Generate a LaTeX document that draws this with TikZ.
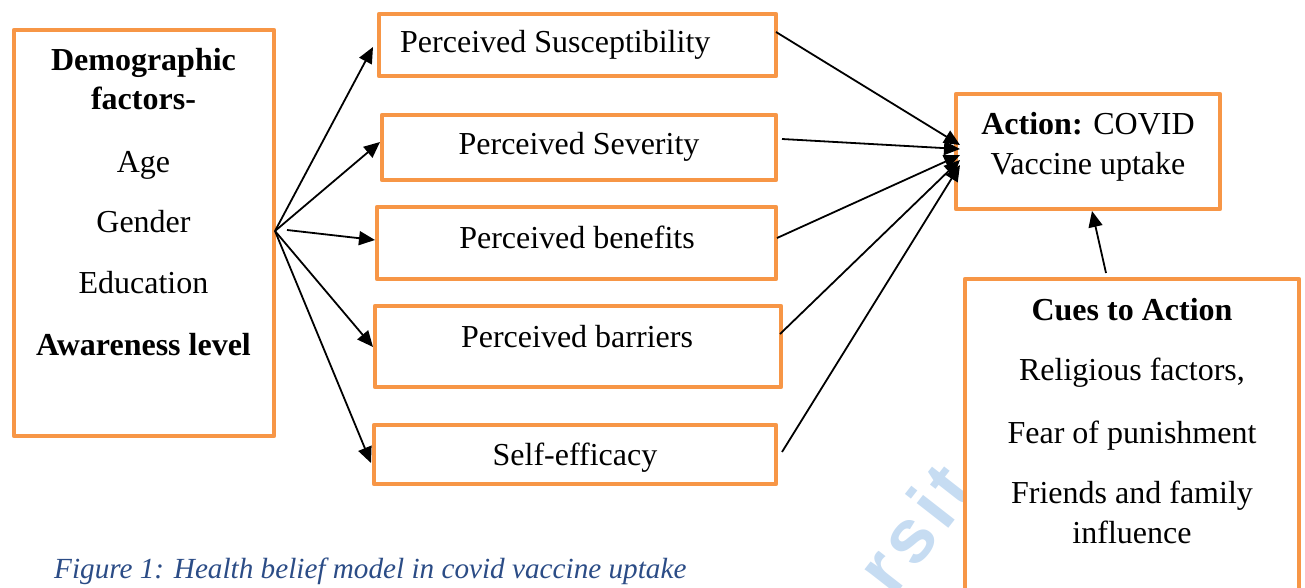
\documentclass[tikz,border=0pt]{standalone}
\usepackage{fontspec}
\setmainfont{Liberation Serif}
\newfontfamily\markfont[LetterSpace=8]{Liberation Sans}
\usetikzlibrary{arrows.meta,calc}
\definecolor{boxorange}{HTML}{F79646}
\definecolor{captionblue}{HTML}{2B4C86}
\definecolor{markblue}{RGB}{198,220,242}

\begin{document}
\begin{tikzpicture}[x=1pt,y=-1pt,
  frame/.style={draw=boxorange, line width=4.5pt, line join=round, fill=white,
    rectangle, inner sep=0pt, outer sep=0pt},
  txt/.style={font=\fontsize{32}{38}\selectfont, inner sep=0pt, anchor=base},
  link/.style={line width=1.8pt, -{Triangle[length=16pt,width=14pt]}},
]
\useasboundingbox (0,0) rectangle (1305,588);

% faint background mark
\node[font=\markfont\bfseries\fontsize{76}{76}\selectfont, text=markblue,
      rotate=52, inner sep=0pt] (mark) at (914,528) {rsit};

% boxes
\node[frame, minimum width=260pt, minimum height=406pt] (dem) at (144,233) {};
\node[frame, minimum width=397pt, minimum height=62pt]  (sus) at (577.5,45) {};
\node[frame, minimum width=394pt, minimum height=65pt]  (sev) at (579,147.5) {};
\node[frame, minimum width=399pt, minimum height=72pt]  (ben) at (576.5,243) {};
\node[frame, minimum width=406pt, minimum height=81pt]  (bar) at (578,346.5) {};
\node[frame, minimum width=402pt, minimum height=59pt]  (eff) at (575,454.5) {};
\node[frame, minimum width=264pt, minimum height=115pt] (act) at (1088,151.5) {};
\node[frame, minimum width=334pt, minimum height=341pt] (cue) at (1132,449.5) {};

% demographic factors
\node[txt, font=\bfseries\fontsize{32}{38}\selectfont] (d1) at (143.5,71) {Demographic};
\node[txt, font=\bfseries\fontsize{32}{38}\selectfont] (d2) at (143.5,110) {factors-};
\node[txt] (d3) at (143.5,172) {Age};
\node[txt] (d4) at (143.5,232) {Gender};
\node[txt] (d5) at (143.5,293) {Education};
\node[txt, font=\bfseries\fontsize{32}{38}\selectfont] (d6) at (143.5,355) {Awareness level};

% perceptions
\node[txt, anchor=base west] (t1) at (400,53) {Perceived Susceptibility};
\node[txt] (t2) at (579,155) {Perceived Severity};
\node[txt] (t3) at (577,248) {Perceived benefits};
\node[txt] (t4) at (577,347) {Perceived barriers};
\node[txt] (t5) at (575,465) {Self-efficacy};

% action
\node[txt] (a1) at (1088,135) {\textbf{Action:} COVID};
\node[txt] (a2) at (1088,175) {Vaccine uptake};

% cues to action
\node[txt, font=\bfseries\fontsize{32}{38}\selectfont] (c1) at (1132,320) {Cues to Action};
\node[txt] (c2) at (1132,380) {Religious factors,};
\node[txt] (c3) at (1132,443) {Fear of punishment};
\node[txt] (c4) at (1132,503) {Friends and family};
\node[txt] (c5) at (1132,543) {influence};

% caption
\node[font=\itshape\fontsize{29.2}{34}\selectfont, text=captionblue, anchor=base west,
      inner sep=0pt] (cap) at (54,578) {Figure 1: Health belief model in covid vaccine uptake};

% demographic factors to perceptions
\draw[link] ($(dem.east)+(1,-2)$) -- ($(sus.west)+(-6,2)$);
\draw[link] ($(dem.east)+(1,-2)$) -- ($(sev.west)+(-2,-5.5)$);
\draw[link] ($(dem.east)+(13,-3)$) -- ($(ben.west)+(-2,-3)$);
\draw[link] ($(dem.east)+(1,-2)$) -- ($(bar.west)+(-2,0.5)$);
\draw[link] ($(dem.east)+(1,-2)$) -- ($(eff.west)+(-3,8.5)$);

% perceptions to action
\draw[link] ($(sus.east)+(0,-13)$) -- ($(act.west)+(4,-6.5)$);
\draw[link] ($(sev.east)+(6,-8.5)$) -- ($(act.west)+(4,-2.5)$);
\draw[link] ($(ben.east)+(1,-5)$) -- ($(act.west)+(4,3.5)$);
\draw[link] ($(bar.east)+(-1,-12.5)$) -- ($(act.west)+(4,8.5)$);
\draw[link] ($(eff.east)+(6,-2.5)$) -- ($(act.west)+(4,13.5)$);

% cues to action
\draw[link] ($(cue.north)+(-26,-6)$) -- ($(act.south)+(4,2)$);
\end{tikzpicture}
\end{document}
